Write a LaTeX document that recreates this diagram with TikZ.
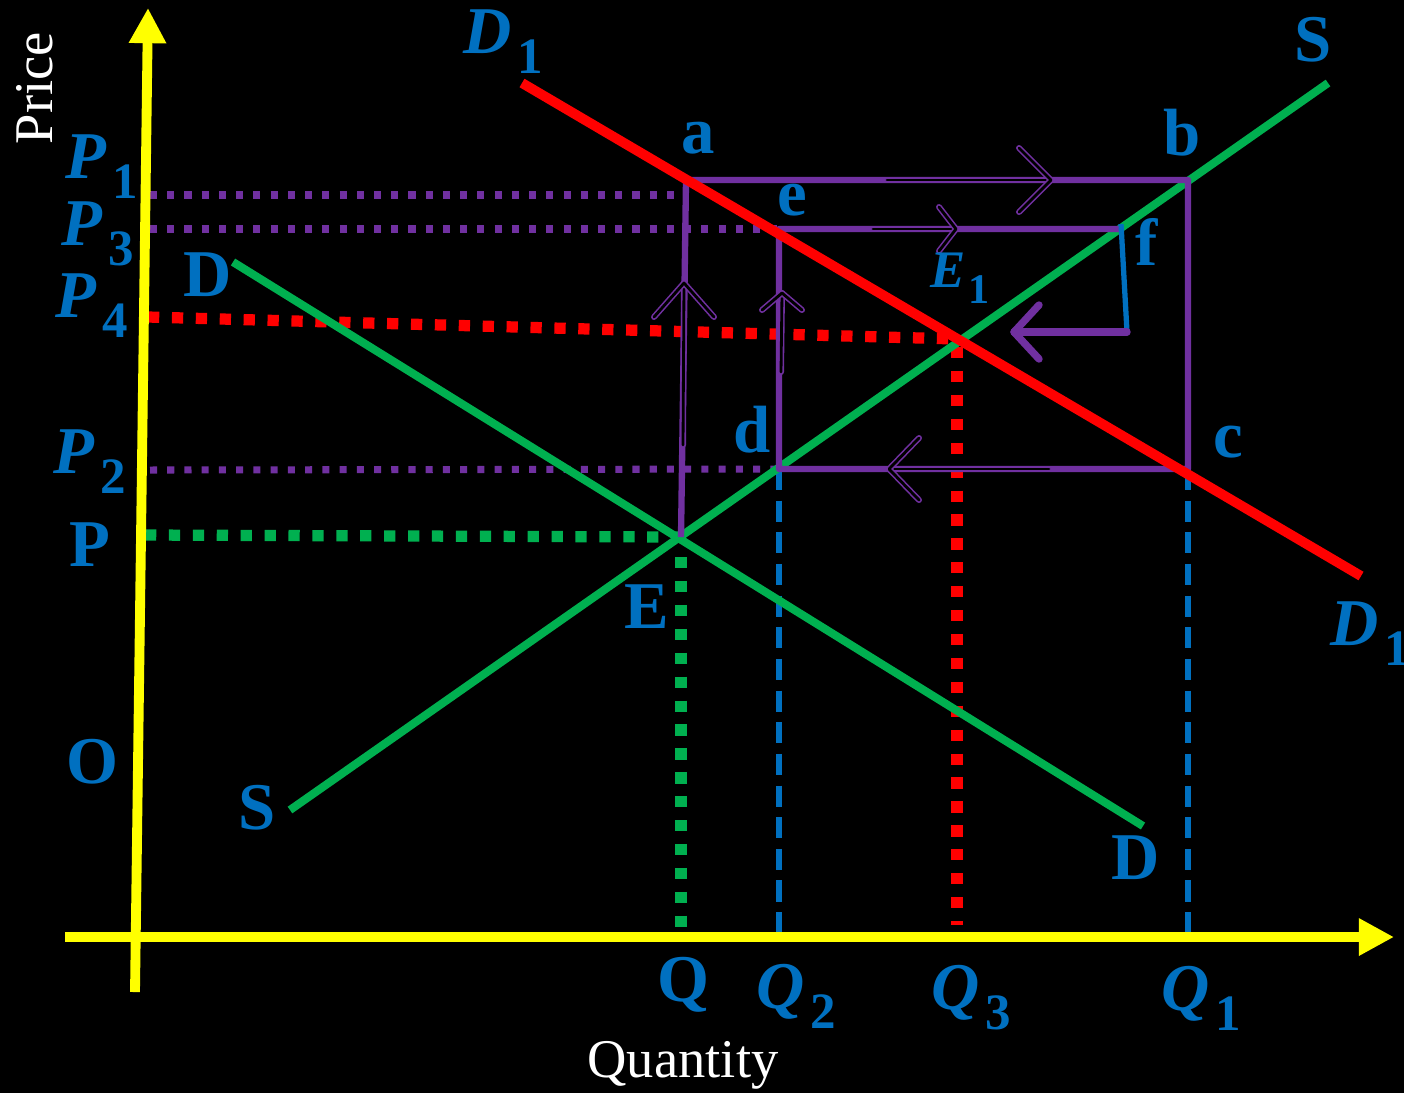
\documentclass[tikz,border=0pt]{standalone}
\usepackage{fontspec}
\setmainfont{Liberation Serif}
\usetikzlibrary{arrows.meta}

\definecolor{axisyellow}{HTML}{FFFF00}
\definecolor{curvegreen}{HTML}{00B050}
\definecolor{shiftred}{HTML}{FF0000}
\definecolor{routepurple}{HTML}{7030A0}
\definecolor{labelblue}{HTML}{0070C0}

% italic letter with upright subscript
\newcommand{\ilab}[2]{\textit{#1}\kern0.08em\raisebox{-0.3em}{\fontsize{14.5}{15}\selectfont #2}}

\begin{document}
\begin{tikzpicture}[x=0.01cm, y=-0.01cm, line join=round]
    % Styles
    \tikzstyle{axis} = [draw=axisyellow, line width=2.8pt, -{Triangle[length=10pt, width=10pt]}]
    \tikzstyle{curve} = [draw=curvegreen, line width=2.3pt]
    \tikzstyle{shifted} = [draw=shiftred, line width=2.8pt]
    \tikzstyle{route} = [draw=routepurple, line width=1.8pt]
    \tikzstyle{hollow} = [draw=routepurple, line width=0.45pt, double=black, double distance=0.8pt, line cap=round]
    \tikzstyle{guide} = [draw=routepurple, line width=2pt, dash pattern=on 2pt off 2.9pt]
    \tikzstyle{redguide} = [draw=shiftred, line width=3.2pt, dash pattern=on 3.2pt off 3.6pt]
    \tikzstyle{greenguide} = [draw=curvegreen, line width=3.2pt, dash pattern=on 3.2pt off 3.6pt]
    \tikzstyle{blueguide} = [draw=labelblue, line width=1.8pt, dash pattern=on 6pt off 3pt]
    \tikzstyle{lbl} = [text=labelblue, font=\fontsize{19}{20}\selectfont\bfseries, inner sep=0pt]
    \tikzstyle{axislbl} = [text=white, font=\fontsize{15.5}{17}\selectfont, inner sep=0pt]

    % Background
    \fill[black] (0,0) rectangle (1404,1093);
    \useasboundingbox (0,0) rectangle (1404,1093);

    % Points
    \coordinate (ybot) at (135,992);
    \coordinate (ytop) at (148,8);
    \coordinate (xleft) at (65,937);
    \coordinate (xright) at (1394,937);
    \coordinate (ss0) at (290,810);
    \coordinate (ss1) at (1328,83);
    \coordinate (dd0) at (233,262);
    \coordinate (dd1) at (1143,826);
    \coordinate (rr0) at (522,83);
    \coordinate (rr1) at (1361,576);
    \coordinate (E) at (681,537);
    \coordinate (a) at (686,180);
    \coordinate (b) at (1188,180);
    \coordinate (c) at (1188,469);
    \coordinate (d) at (779,469);
    \coordinate (e) at (779,229);
    \coordinate (f) at (1121,229);
    \coordinate (E1) at (957,339);
    \coordinate (pP1) at (150,195);
    \coordinate (pP3) at (150,229);
    \coordinate (pP4) at (148,317);
    \coordinate (pP2) at (150,470);
    \coordinate (pP) at (145,535);
    \coordinate (qQ) at (681,930);
    \coordinate (qQ2) at (779,935);
    \coordinate (qQ3) at (957,925);
    \coordinate (qQ1) at (1188,935);

    % Guides
    \draw [guide] (pP1) -- (pP1 -| a);
    \draw [guide] (pP3) -- (e);
    \draw [guide] (pP2) -- (d);
    \draw [redguide] (pP4) -- (E1);
    \draw [greenguide] (pP) -- (E);
    \draw [greenguide] ([yshift=-0.2cm]E) -- (qQ);
    \draw [redguide] ([yshift=-0.08cm]E1) -- (qQ3);
    \draw [blueguide] (d) -- (qQ2);
    \draw [blueguide] (c) -- (qQ1);

    % Axes
    \draw [axis] (ybot) -- (ytop);
    \draw [axis] (xleft) -- (xright);

    % Curves
    \draw [curve] (ss0) -- (ss1);
    \draw [curve] (dd0) -- (dd1);

    % Adjustment path
    \draw [route] (E) -- (a) -- (b) -- (c) -- (d) -- (e) -- (f);
    \draw [draw=labelblue, line width=1.5pt] ([yshift=0.05cm]f) -- (1127,332) coordinate (fcorner);
    \draw [route, line width=2.1pt, line cap=round] (fcorner) -- (1014,332) coordinate (fleft);
    \draw [route, line width=2.1pt, line cap=round] (fleft) ++(25,-27) -- (fleft) -- ++(25,27);

    \draw [shifted] (rr0) -- (rr1);

    % Hollow arrows
    \coordinate (upAbot) at (683,445);
    \coordinate (upAtip) at (684,283);
    \draw [hollow] (upAbot) -- (upAtip);
    \draw [hollow] (upAtip) ++(-30,34) -- (upAtip) -- ++(30,34);
    \coordinate (upEbot) at (781,372);
    \coordinate (upEtip) at (782,293);
    \draw [hollow] (upEbot) -- (upEtip);
    \draw [hollow] (upEtip) ++(-20,17) -- (upEtip) -- ++(20,17);
    \coordinate (topArrL) at (887,180);
    \coordinate (topArrR) at (1051,180);
    \draw [hollow] (topArrL) -- (topArrR);
    \draw [hollow] (topArrR) ++(-32,-32) -- (topArrR) -- ++(-32,32);
    \coordinate (efArrL) at (873,229);
    \coordinate (efArrR) at (956,229);
    \draw [hollow] (efArrL) -- (efArrR);
    \draw [hollow] (efArrR) ++(-17,-22) -- (efArrR) -- ++(-17,22);
    \coordinate (botArrR) at (1049,469);
    \coordinate (botArrL) at (889,469);
    \draw [hollow] (botArrR) -- (botArrL);
    \draw [hollow] (botArrL) ++(30,-31) -- (botArrL) -- ++(30,31);

    % Labels
    \node [axislbl, rotate=90] (price) at (35,88) {Price};
    \node [axislbl] (quantity) at (683,1065) {Quantity};
    \node [lbl] (lblP1) at (102,167) {\ilab{P}{1}};
    \node [lbl] (lblP3) at (98,234) {\ilab{P}{3}};
    \node [lbl] (lblP4) at (92,306) {\ilab{P}{4}};
    \node [lbl] (lblP2) at (90,462) {\ilab{P}{2}};
    \node [lbl] (lblP) at (90,545) {P};
    \node [lbl] (lblO) at (92,762) {O};
    \node [lbl] (lblSl) at (257,808) {S};
    \node [lbl] (lblDl) at (208,275) {D};
    \node [lbl] (lblE) at (647,607) {E};
    \node [lbl] (lblDr) at (1136,858) {D};
    \node [lbl] (lblSr) at (1313,40) {S};
    \node [lbl] (lblD1t) at (503,42) {\ilab{D}{1}};
    \node [lbl] (lblD1r) at (1370,634) {\ilab{D}{1}};
    \node [lbl] (lbla) at (698,138) {a};
    \node [lbl] (lblb) at (1182,133) {b};
    \node [lbl] (lble) at (792,200) {e};
    \node [lbl] (lblf) at (1147,242) {f};
    \node [lbl] (lblc) at (1228,442) {c};
    \node [lbl] (lbld) at (752,430) {d};
    \node [lbl, font=\fontsize{15}{16}\selectfont\bfseries] (lblE1) at (960,278) {\textit{E}\kern0.05em\raisebox{-0.3em}{\fontsize{12}{13}\selectfont 1}};
    \node [lbl] (lblQ) at (683,985) {Q};
    \node [lbl] (lblQ2) at (796,996) {\ilab{Q}{2}};
    \node [lbl] (lblQ3) at (971,998) {\ilab{Q}{3}};
    \node [lbl] (lblQ1) at (1201,998) {\ilab{Q}{1}};
\end{tikzpicture}
\end{document}
